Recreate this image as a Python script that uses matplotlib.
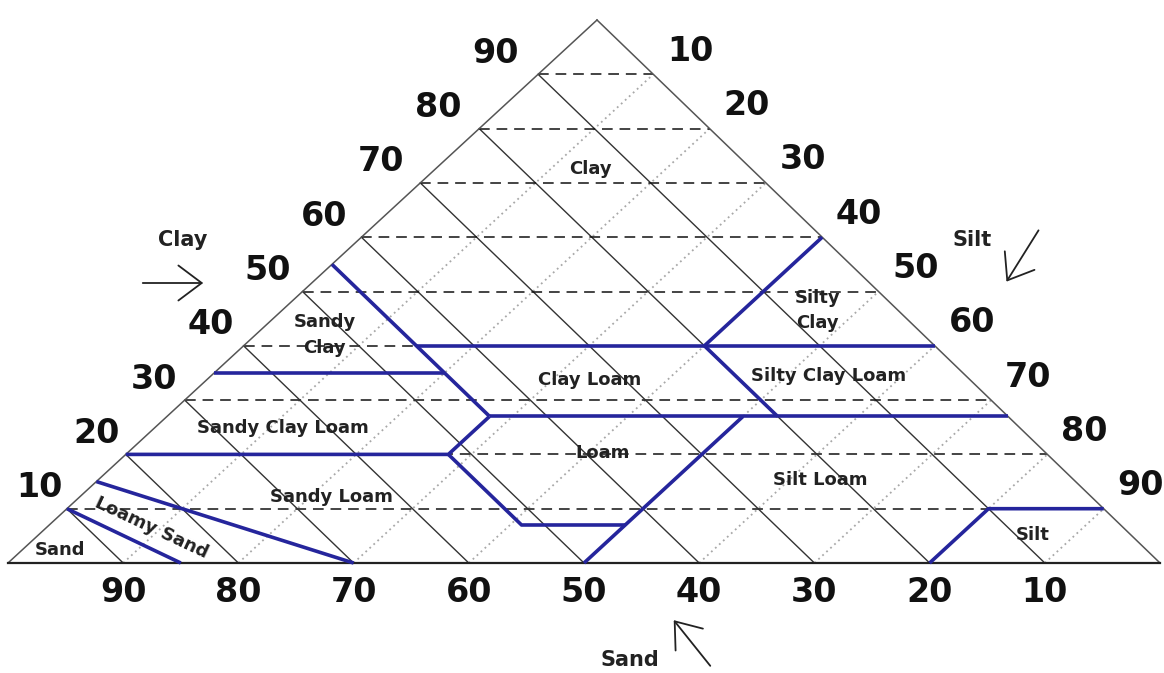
import numpy as np
import matplotlib
matplotlib.use("Agg")
import matplotlib.pyplot as plt
from matplotlib.patches import FancyArrowPatch

# --- data -------------------------------------------------------------
ticks = [10, 20, 30, 40, 50, 60, 70, 80, 90]

# class boundaries as polylines of (sand %, clay %)
boundaries = [
    [(85, 0), (90, 10)],
    [(70, 0), (85, 15)],
    [(80, 20), (52, 20), (45, 27)],
    [(52, 20), (52, 7), (43, 7)],
    [(50, 0), (23, 27)],
    [(65, 35), (45, 35)],
    [(45, 55), (45, 27)],
    [(45, 27), (0, 27)],
    [(45, 40), (0, 40)],
    [(0, 60), (20, 40), (20, 27)],
    [(20, 0), (10, 10), (0, 10)],
]

class_names = ["Clay", "Silty\nClay", "Sandy\nClay", "Clay Loam", "Silty Clay Loam",
               "Sandy Clay Loam", "Loam", "Silt Loam", "Sandy Loam", "Sand", "Silt"]
class_sand = [14, 7, 52, 33, 12, 64, 38.5, 22, 66, 94.3, 8.5]
class_clay = [72.5, 46.5, 42, 33.7, 34.4, 24.9, 20.3, 15.3, 12.2, 2.4, 5.2]

# --- layout: triangle corners in pixel space ----------------------------
BL = (8, 563)     # 100 % sand
BR = (1160, 563)  # 100 % silt
TOP = (597, 20)   # 100 % clay


def tern(sand, clay):
    sand = np.asarray(sand, dtype=float)
    clay = np.asarray(clay, dtype=float)
    silt = 100 - sand - clay
    x = (sand * BL[0] + silt * BR[0] + clay * TOP[0]) / 100
    y = (sand * BL[1] + silt * BR[1] + clay * TOP[1]) / 100
    return x, y


fig = plt.figure(figsize=(11.64, 6.73), dpi=100)
ax = fig.add_axes([0, 0, 1, 1])
ax.set_xlim(0, 1164)
ax.set_ylim(673, 0)
ax.axis("off")

# grid
for t in ticks:
    x, y = tern([100 - t, 0], [t, t])
    ax.plot(x, y, color="#111111", lw=1.1, dashes=(7, 4.5), zorder=2)
    x, y = tern([t, t], [100 - t, 0])
    ax.plot(x, y, color="#333333", lw=1.0, zorder=2)
    x, y = tern([100 - t, 0], [0, 100 - t])
    ax.plot(x, y, color="#a8a8a8", lw=1.3, ls=(0, (1, 2)), zorder=1)

# outline
x, y = tern([100, 0, 0], [0, 100, 0])
ax.plot(x[:2], y[:2], color="#555555", lw=1.1, zorder=3)
ax.plot(x[1:], y[1:], color="#555555", lw=1.1, zorder=3)
x, y = tern([100, 0], [0, 0])
ax.plot(x, y, color="#222222", lw=1.6, zorder=3)

# class boundaries
for line in boundaries:
    s, c = zip(*line)
    x, y = tern(s, c)
    ax.plot(x, y, color="#25259c", lw=2.6, solid_capstyle="butt", zorder=4)

# tick labels
tick_kw = dict(fontsize=24, fontweight="bold", ha="center", va="center", color="#111111")
for t in ticks:
    x, y = tern(100 - t, t)
    ax.text(x - 25 - 0.2 * t, y - 21, str(t), **tick_kw)
    x, y = tern(0, 100 - t)
    ax.text(x + 37, y - 23, str(t), **tick_kw)
    x, y = tern(t, 0)
    ax.text(x, y + 29, str(t), **tick_kw)

# class names
for name, s, c in zip(class_names, class_sand, class_clay):
    x, y = tern(s, c)
    ax.text(x, y, name, fontsize=13, fontweight="bold", ha="center", va="center",
            color="#222222", linespacing=1.55, zorder=5)
x, y = tern(84.4, 6.4)
ax.text(x, y, "Loamy Sand", fontsize=13, fontweight="bold", ha="center", va="center",
        rotation=-25, rotation_mode="anchor", color="#222222", zorder=5)

# axis names and arrows
name_kw = dict(fontsize=15, fontweight="bold", ha="center", va="center", color="#222222")
ax.text(183, 240, "Clay", **name_kw)
ax.text(972, 240, "Silt", **name_kw)
ax.text(630, 660, "Sand", **name_kw)
for p0, p1 in [((140, 283), (206, 283)), ((1040, 228), (1005, 284)), ((712, 668), (672, 618))]:
    ax.add_patch(FancyArrowPatch(p0, p1, arrowstyle="->,head_length=0.6,head_width=0.45",
                                 mutation_scale=28, lw=1.3, color="#222222"))

fig.savefig("out.png", dpi=100, facecolor="white")
